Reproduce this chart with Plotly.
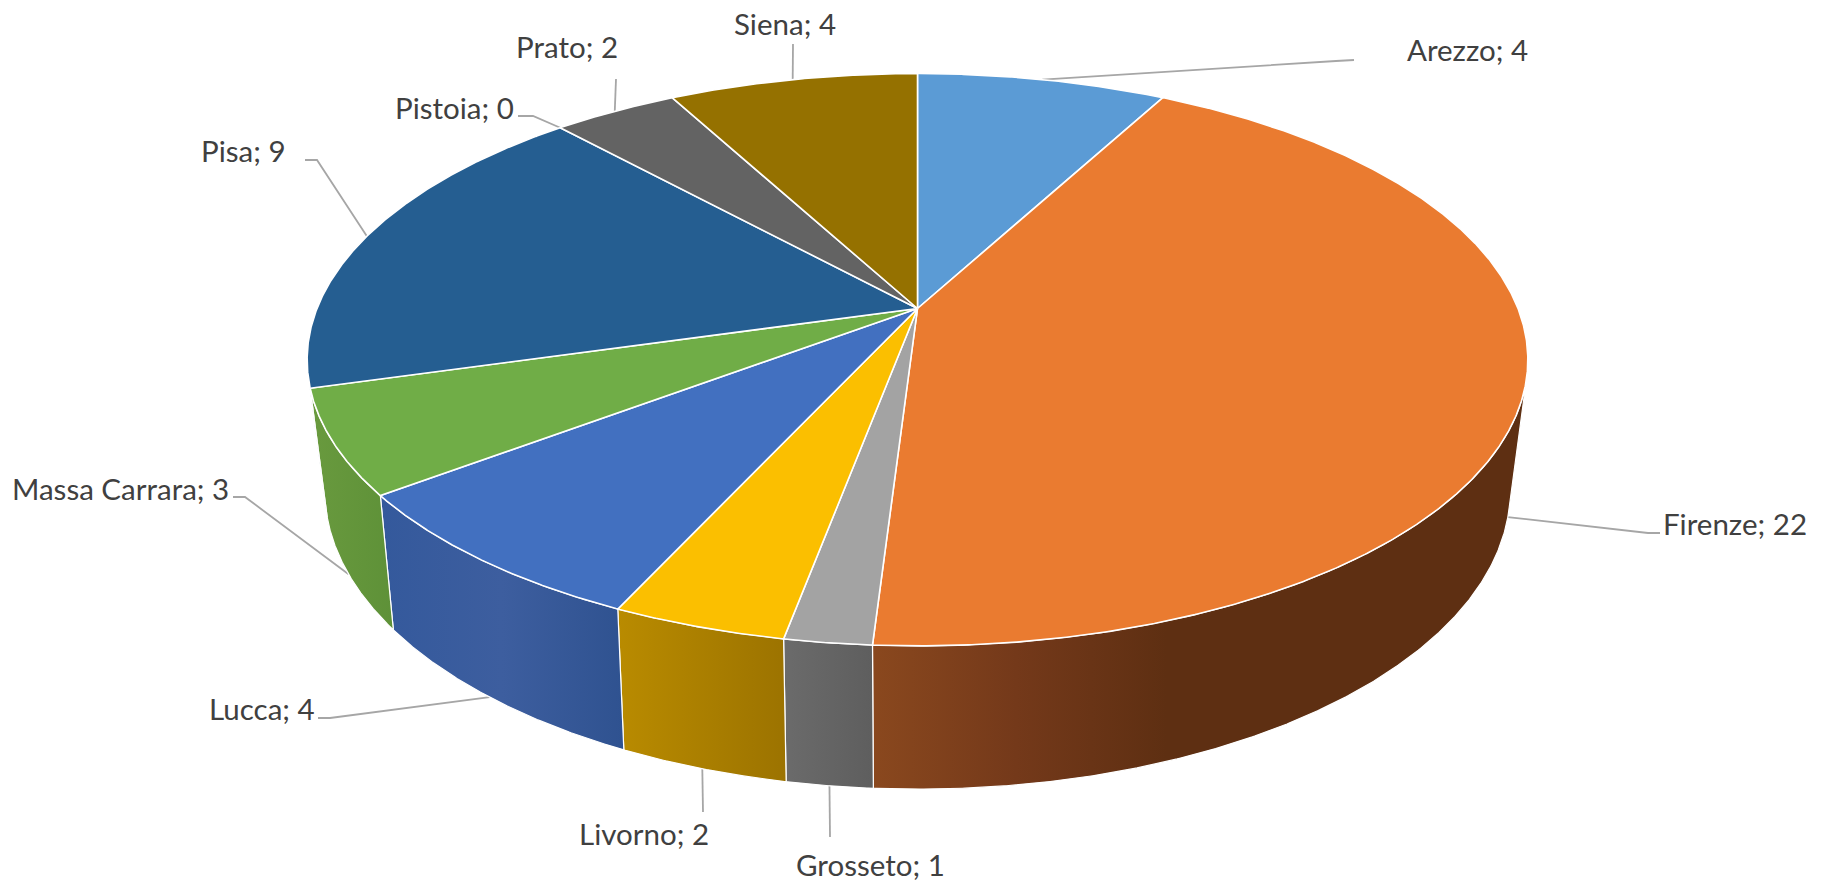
import numpy as np
import plotly.graph_objects as go

names = ["Arezzo", "Firenze", "Grosseto", "Livorno", "Lucca", "Massa Carrara", "Pisa", "Pistoia", "Prato", "Siena"]
values = [4, 22, 1, 2, 4, 3, 9, 0, 2, 4]

top_colors = ["#5B9BD5", "#EA7B30", "#A3A3A3", "#FBBF00", "#4270C0", "#70AD47", "#255E91", "#9E480E", "#636363", "#957100"]
wall_scales = [
    [[0, "#3F6C95"], [1, "#3F6C95"]],
    [[0, "#8A481E"], [0.22, "#74391A"], [0.45, "#5E2F12"], [1, "#5E2F12"]],
    [[0, "#6B6B6B"], [1, "#5E5E5E"]],
    [[0, "#B98B00"], [1, "#9C7300"]],
    [[0, "#34599C"], [0.5, "#3D5E9F"], [1, "#2F5290"]],
    [[0, "#699A3E"], [1, "#5E9138"]],
    [[0, "#1A4265"], [1, "#1A4265"]],
    [[0, "#6E320A"], [1, "#6E320A"]],
    [[0, "#454545"], [1, "#454545"]],
    [[0, "#6B5000"], [1, "#6B5000"]],
]

# label centres, and the point where each leader leaves its label
label_x = [1467, 1735, 870, 644, 262, 120, 243, 454, 567, 785]
label_y = [49, 523, 864, 833, 708, 488, 150, 107, 46, 23]
leader_start = [(1354, 60), (1660, 533), (830, 837), (703, 812), (318, 718), (233, 497), (305, 160), (518, 116), (616, 79), (793, 44)]
leader_knee = [(1336, 61), (1648, 533), None, None, (330, 718), (245, 497), (317, 160), (533, 116), None, None]
# leaders of the front slices end on the lower rim, the others on the top rim
leader_on_lower = [False, True, True, True, True, True, False, False, False, False]

# projection of the tilted disc and of its underside, in page pixels
cx, cy = 917.5, 308.5
a, b, k = 600.5, 277, 0.179
low_y, low_a, low_b, low_k = 434, 582, 288, 0.189


def rim(theta):
    den = 1 + k * np.cos(theta)
    return cx + a * np.sin(theta) / den, cy - b * np.cos(theta) / den


def lower(theta):
    den = 1 + low_k * np.cos(theta)
    return cx + low_a * np.sin(theta) / den, low_y - low_b * np.cos(theta) / den


def front_facing(theta):
    x, y = rim(theta)
    dx, dy = rim(theta + 1e-4)
    lx, ly = lower(theta)
    return (dx - x) * (ly - y) - (dy - y) * (lx - x) < 0


total = sum(values)
edges = np.cumsum([0] + values) / total * 2 * np.pi

fig = go.Figure()

# leaders go first so the pie covers their ends
for i in range(len(names)):
    mid = (edges[i] + edges[i + 1]) / 2
    end = lower(mid) if leader_on_lower[i] else rim(mid)
    pts = [leader_start[i]] + ([leader_knee[i]] if leader_knee[i] else []) + [end]
    fig.add_trace(go.Scatter(x=[p[0] for p in pts], y=[p[1] for p in pts], mode="lines",
                             line=dict(color="#A6A6A6", width=1.8), hoverinfo="skip"))

for i in range(len(names)):
    if values[i] == 0:
        continue
    t = np.linspace(edges[i], edges[i + 1], 40 + int(values[i] * 30))
    t = t[front_facing(t)]
    if len(t) < 2:
        continue
    x, y = rim(t)
    lx, ly = lower(t)
    fig.add_trace(go.Scatter(x=np.r_[x, lx[::-1], x[0]], y=np.r_[y, ly[::-1], y[0]], mode="lines",
                             fill="toself", fillgradient=dict(type="horizontal", colorscale=wall_scales[i]),
                             line=dict(color="white", width=1.2), hoverinfo="skip"))

for i in range(len(names)):
    if values[i] == 0:
        continue
    t = np.linspace(edges[i], edges[i + 1], 40 + int(values[i] * 30))
    x, y = rim(t)
    fig.add_trace(go.Scatter(x=np.r_[cx, x, cx], y=np.r_[cy, y, cy], mode="lines", fill="toself",
                             fillcolor=top_colors[i], line=dict(color="white", width=1.6), hoverinfo="skip"))

for i in range(len(names)):
    fig.add_annotation(x=label_x[i], y=label_y[i], text=f"{names[i]}; {values[i]}", showarrow=False,
                       font=dict(family="Lato", size=29.5, color="#404040"))

fig.update_layout(
    width=1825, height=881, margin=dict(l=0, r=0, t=0, b=0), showlegend=False,
    paper_bgcolor="white", plot_bgcolor="white",
    xaxis=dict(range=[0, 1825], visible=False, fixedrange=True),
    yaxis=dict(range=[881, 0], visible=False, fixedrange=True),
)
fig.write_html("out.html", post_script="document.body.style.margin='0';", config=dict(displayModeBar=False))
